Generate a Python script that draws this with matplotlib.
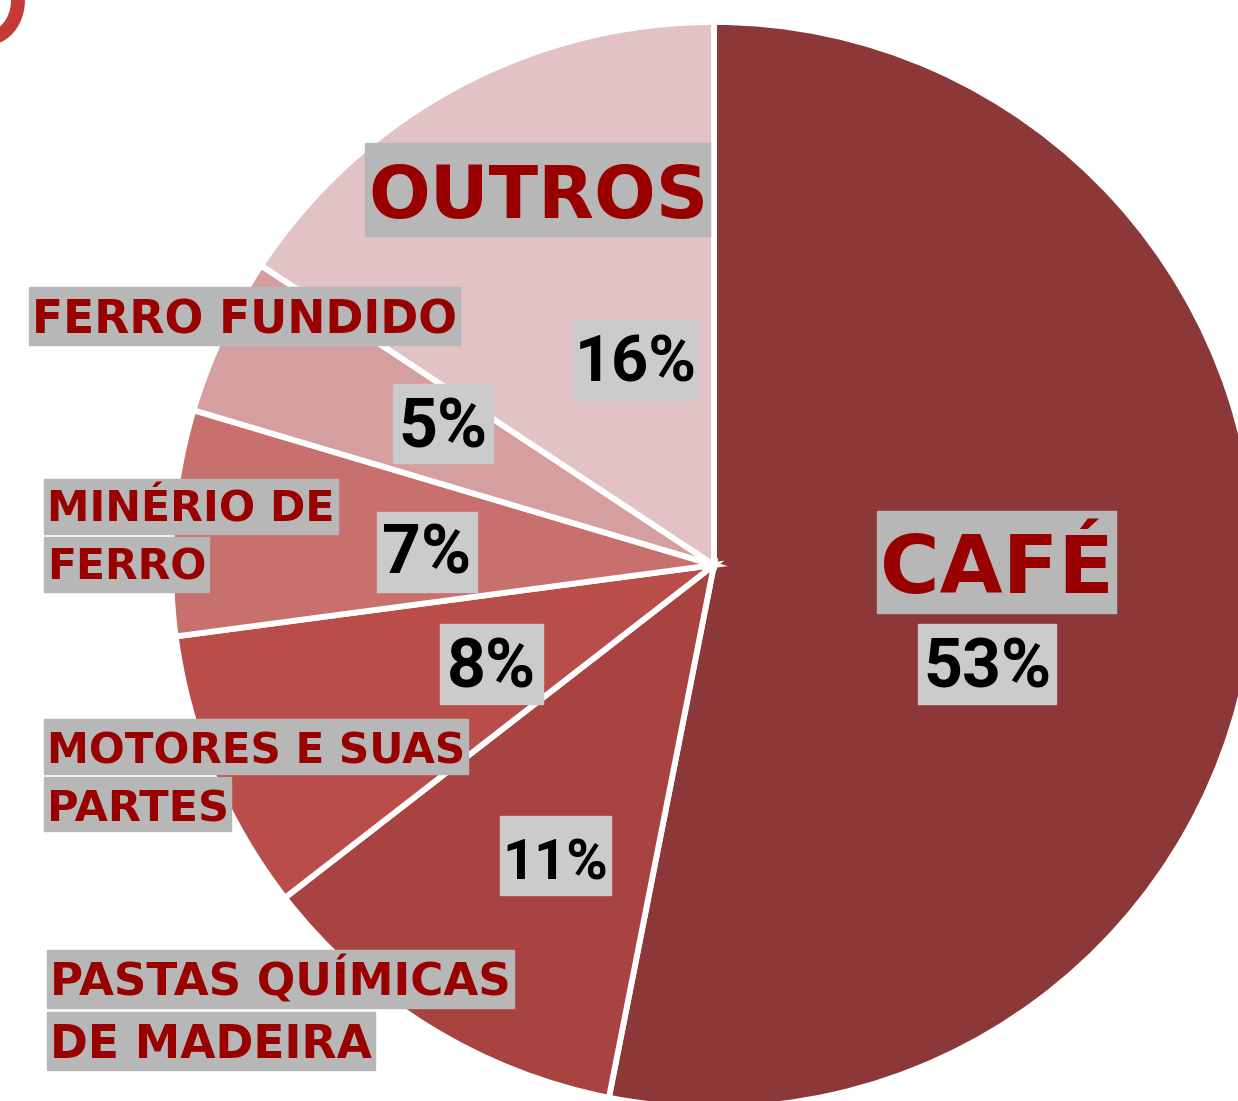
import matplotlib
matplotlib.use('Agg')
import matplotlib.pyplot as plt
from matplotlib.patches import Rectangle, Arc

# wedge shares (%), clockwise from the top, and the printed labels
categories = ['CAFÉ', 'PASTAS QUÍMICAS DE MADEIRA', 'MOTORES E SUAS PARTES',
              'MINÉRIO DE FERRO', 'FERRO FUNDIDO', 'OUTROS']
shares = [53.1, 11.4, 8.4, 6.7, 4.7, 15.7]
pct_labels = ['53%', '11%', '8%', '7%', '5%', '16%']
colors = ['#8c3838', '#a84341', '#b94d4a', '#c8706e', '#d59e9f', '#e2c2c4']

W, H = 1238, 1101
LABEL_RED = '#990000'
BOX_DARK = '#b7b7b7'
BOX_LIGHT = '#cbcbcb'

fig = plt.figure(figsize=(W / 100, H / 100), dpi=100)
ax = fig.add_axes([0, 0, 1, 1])

# y axis inverted (pixel-like layout), so counterclock=True runs clockwise on screen
ax.pie(shares, colors=colors, startangle=-90, counterclock=True,
       center=(714, 565), radius=543,
       wedgeprops=dict(edgecolor='white', linewidth=4.2))
ax.set_xlim(0, W)
ax.set_ylim(H, 0)
ax.set_aspect('equal')
ax.axis('off')

# clipped red mark in the top-left corner
ax.add_patch(Arc((-12, 0), 60, 76, theta1=0, theta2=120,
                 color='#c43a35', linewidth=10))

fitted = []  # (text artist, target width in px, max size)


def label_line(text, x0, y0, x1, y1, base, size):
    ax.add_patch(Rectangle((x0, y0), x1 - x0, y1 - y0, color=BOX_DARK, zorder=3))
    t = ax.text(x0 + 3, base, text, ha='left', va='baseline', color=LABEL_RED,
                fontsize=size, fontweight='bold', family='DejaVu Sans', zorder=4)
    fitted.append((t, x1 - x0 - 5, size))


def pct_box(text, x0, y0, x1, y1, base, size):
    ax.add_patch(Rectangle((x0, y0), x1 - x0, y1 - y0, color=BOX_LIGHT, zorder=3))
    t = ax.text((x0 + x1) / 2, base, text, ha='center', va='baseline', color='black',
                fontsize=size, fontweight='bold', family='Roboto', zorder=4)
    fitted.append((t, x1 - x0 - 5, size))


# category labels (one grey box per line)
label_line('OUTROS', 365, 143, 710, 236, 218, 53)
label_line('FERRO FUNDIDO', 29, 287, 460, 345, 333, 33)
label_line('MINÉRIO DE', 44, 479, 338, 534, 522, 33)
label_line('FERRO', 44, 537, 209, 592, 580, 33)
label_line('MOTORES E SUAS', 44, 719, 468, 774, 763, 33)
label_line('PARTES', 44, 777, 231, 831, 821, 33)
label_line('PASTAS QUÍMICAS', 47, 950, 514, 1008, 996, 33)
label_line('DE MADEIRA', 47, 1012, 375, 1070, 1058, 33)
label_line('CAFÉ', 877, 511, 1116, 613, 593, 60)

# percentages
pct_box(pct_labels[5], 572, 320, 699, 400, 382, 49)
pct_box(pct_labels[4], 393, 384, 493, 463, 447, 49)
pct_box(pct_labels[3], 377, 512, 477, 592, 573, 49)
pct_box(pct_labels[2], 440, 624, 543, 704, 688, 49)
pct_box(pct_labels[1], 500, 816, 611, 895, 879, 49)
pct_box(pct_labels[0], 918, 624, 1056, 704, 687, 49)

# shrink any text that runs past its grey box
renderer = fig.canvas.get_renderer()
for t, target, size in fitted:
    w = t.get_window_extent(renderer).width
    if w > target:
        t.set_fontsize(size * target / w)

fig.savefig('out.png', dpi=100)
